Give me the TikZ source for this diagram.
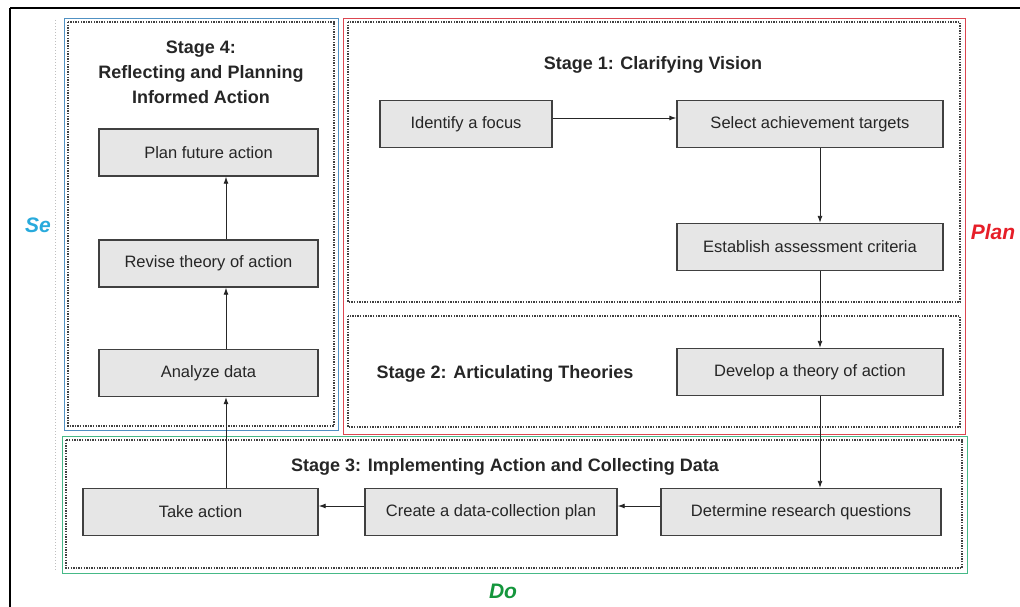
\documentclass[tikz,border=0pt]{standalone}
\usepackage{fontspec}
\setmainfont{Liberation Sans}
\usetikzlibrary{calc,arrows.meta}
\definecolor{sblue}{RGB}{80,145,195}
\definecolor{sred}{RGB}{220,70,80}
\definecolor{sgreen}{RGB}{70,185,135}
\definecolor{tblue}{RGB}{40,170,220}
\definecolor{tred}{RGB}{230,30,40}
\definecolor{tgreen}{RGB}{20,150,60}
\definecolor{boxfill}{RGB}{230,230,230}
\tikzset{
  stepbox/.style={draw=black!75, line width=1.4pt, fill=boxfill, minimum height=47pt,
    inner sep=0pt, font=\fontsize{16.5}{18}\selectfont, text=black!85},
  dotbox/.style={draw=black!75, line width=1.7pt, dash pattern=on 1.4pt off 1.2pt},
  title/.style={font=\bfseries\fontsize{18}{25}\selectfont, text=black!85, align=center},
  side/.style={font=\bfseries\itshape\fontsize{21}{24}\selectfont},
  arr/.style={draw=black!85, line width=0.9pt, -{Latex[length=7pt,width=5pt]}},
}
\begin{document}
\begin{tikzpicture}[x=1pt,y=-1pt]
\useasboundingbox (0,0) rectangle (1020,607);
% outer frame lines
\draw[line width=2pt] (10,8) -- (1020,8);
\draw[line width=2pt] (10,8) -- (10,607);
\draw[black!25, dotted, line width=1pt] (55,20) -- (55,570);
% coloured boxes
\draw[sblue, line width=0.8pt] (64,18) rectangle (338,430);
\draw[sred, line width=0.8pt] (343,18) rectangle (965,434);
\draw[sgreen, line width=0.8pt] (62,436) rectangle (967,573);
% dotted stage boxes
\draw[dotbox] (68,22) rectangle (334,426);
\draw[dotbox] (348,22) rectangle (960,302);
\draw[dotbox] (348,316) rectangle (960,427);
\draw[dotbox] (66,440) rectangle (962,568);
% titles
\node[title] (t4) at (201,72) {Stage 4:\\Reflecting and Planning\\Informed Action};
\node[title] (t1) at (653,65) {Stage 1: Clarifying Vision};
\node[title] (t2) at (505,374) {Stage 2: Articulating Theories};
\node[title] (t3) at (505,467) {Stage 3: Implementing Action and Collecting Data};
\node[side, text=tblue] (se) at (38,225) {Se};
\node[side, text=tred] (plan) at (993,232) {Plan};
\node[side, text=tgreen] (do) at (503,591) {Do};
% step boxes
\node[stepbox, minimum width=219pt] (pfa) at (208.5,152.5) {Plan future action};
\node[stepbox, minimum width=219pt] (rev) at (208.5,263.5) {Revise theory of action};
\node[stepbox, minimum width=219pt] (ana) at (208.5,373) {Analyze data};
\node[stepbox, minimum width=172pt] (foc) at (466,124) {Identify a focus};
\node[stepbox, minimum width=266pt] (sel) at (810,124) {Select achievement targets};
\node[stepbox, minimum width=266pt] (est) at (810,247) {Establish assessment criteria};
\node[stepbox, minimum width=266pt] (dev) at (810,372) {Develop a theory of action};
\node[stepbox, minimum width=280pt] (det) at (801,512) {Determine research questions};
\node[stepbox, minimum width=252pt] (cre) at (491,512) {Create a data-collection plan};
\node[stepbox, minimum width=235pt] (tak) at (200.5,512) {Take action};
% connectors
\draw[arr] ($(foc.east)+(0,-6)$) -- ($(sel.west)+(0,-6)$);
\coordinate (rx) at ($(sel.south)+(10,0)$);
\draw[arr] (rx) -- (rx |- est.north);
\draw[arr] (rx |- est.south) -- (rx |- dev.north);
\draw[arr] (rx |- dev.south) -- (rx |- det.north);
\draw[arr] ($(det.west)+(0,-6)$) -- ($(cre.east)+(0,-6)$);
\draw[arr] ($(cre.west)+(0,-6)$) -- ($(tak.east)+(0,-6)$);
\coordinate (lx) at ($(ana.south)+(17.5,0)$);
\draw[arr] (lx |- tak.north) -- (lx);
\draw[arr] (lx |- ana.north) -- (lx |- rev.south);
\draw[arr] (lx |- rev.north) -- (lx |- pfa.south);
\end{tikzpicture}
\end{document}
